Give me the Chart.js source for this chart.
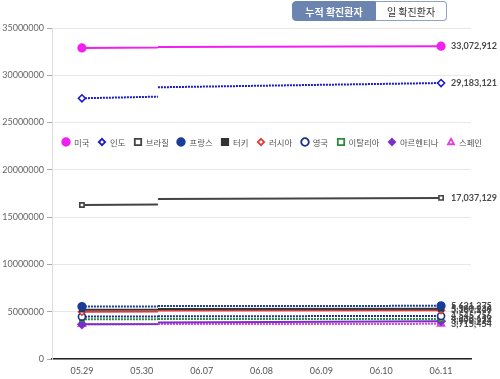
<!DOCTYPE html>
<html><head><meta charset="utf-8">
<script src="https://cdn.jsdelivr.net/npm/chart.js@4"></script>
<style>
html,body{margin:0;padding:0;background:#fff;}
#wrap{position:relative;width:500px;height:379px;overflow:hidden;}
#c{position:absolute;left:0;top:0;}
.btns{position:absolute;left:292px;top:1px;display:flex;font-family:'Noto Sans CJK KR',sans-serif;font-size:10px;z-index:2;}
.btns div{height:20px;line-height:20px;text-align:center;box-sizing:border-box;}
.b1{width:84px;background:#6c84b0;color:#fff;font-weight:bold;border:1px solid #6c84b0;border-radius:4px 0 0 4px;}
.b2{width:71px;background:#fff;color:#333;border:1px solid #8ea2c6;border-left:none;border-radius:0 4px 4px 0;}
#legend{position:absolute;left:61px;top:136px;display:flex;align-items:center;font-family:'Noto Sans CJK KR',sans-serif;font-size:8.4px;color:#555;z-index:2;white-space:nowrap;}
#legend .it{display:flex;align-items:center;margin-right:7.5px;}
#legend canvas{margin-right:3px;}
</style>
</head><body>
<div id="wrap">
<canvas id="c" width="500" height="379"></canvas>
<div class="btns"><div class="b1">누적 확진환자</div><div class="b2">일 확진환자</div></div>
<div id="legend"></div>
</div>
<script>
const labels = ['05.29','05.30','06.07','06.08','06.09','06.10','06.11'];
const countries = ['미국','인도','브라질','프랑스','터키','러시아','영국','이탈리아','아르헨티나','스페인'];
const startValues    = [32890000, 27570000, 16280000, 5550000, 5220000, 5000000, 4480000, 4210000, 3670000, 3670000];
const preBreakValues = [32930000, 27740000, 16340000, 5560000, 5230000, 5020000, 4490000, 4215000, 3700000, 3680000];
const postBreakValues= [33000000, 28730000, 16920000, 5600000, 5280000, 5130000, 4520000, 4230000, 3870000, 3700000];
const lastValues     = [33072912, 29183121, 17037129, 5621275, 5300236, 5167949, 4545756, 4238119, 3998924, 3715454];
const BREAK_AT = 1.27;

const colors   = ['#f020f0','#1a1acc','#444444','#1a3d99','#333333','#e03a3a','#1a2f8a','#2a8a3a','#7a30c8','#e040e0'];
const dotted   = [false,true,false,true,false,false,true,true,false,true];
const pStyles  = ['circle','rectRot','rect','circle','rect','rectRot','circle','rect','rectRot','triangle'];
const pFilled  = [true,false,false,true,true,false,false,false,true,false];
const pRadius  = [3.8,3.5,3,3.8,3,3.5,3.5,3,4,4];

const datasets = countries.map((name,i)=>({
  label:name,
  data:[{x:0,y:startValues[i]},{x:BREAK_AT,y:preBreakValues[i]},{x:BREAK_AT,y:null},{x:BREAK_AT,y:postBreakValues[i]},{x:labels.length-1,y:lastValues[i]}],
  borderColor:colors[i],
  borderWidth:2,
  borderDash:dotted[i]?[2,1]:[],
  pointStyle:pStyles[i],
  pointRadius:[pRadius[i],0,0,0,pRadius[i]],
  pointBackgroundColor:pFilled[i]?colors[i]:'#fff',
  pointBorderColor:colors[i],
  pointBorderWidth:1.6,
  fill:false,
  tension:0,
  spanGaps:false
}));

const endLabels = {
  id:'endLabels',
  afterDatasetsDraw(chart){
    const ctx = chart.ctx;
    ctx.save();
    ctx.font = "bold 9px Lato, 'Noto Sans CJK KR', sans-serif";
    ctx.fillStyle = '#4a4a4a';
    ctx.textBaseline = 'middle';
    chart.data.datasets.forEach((ds,i)=>{
      const meta = chart.getDatasetMeta(i);
      const pt = meta.data[meta.data.length-1];
      ctx.fillText(lastValues[i].toLocaleString('en-US'), pt.x+10, pt.y);
    });
    ctx.restore();
  }
};

Chart.defaults.font.family = "Lato, 'Noto Sans CJK KR', sans-serif";
new Chart(document.getElementById('c'),{
  type:'line',
  data:{datasets},
  options:{
    responsive:false, animation:false,
    layout:{padding:{top:28,right:29,left:0,bottom:0}},
    plugins:{legend:{display:false},tooltip:{enabled:false}},
    scales:{
      x:{type:'linear',min:-0.5,max:labels.length-0.5,
        afterBuildTicks:a=>{a.ticks = labels.map((_,i)=>({value:i}));},
        ticks:{callback:v=>labels[v],font:{size:9},color:'#555',padding:7,autoSkip:false,maxRotation:0},
        grid:{display:false,drawTicks:false},
        border:{display:true,color:'#222',width:1.5},
        afterFit:s=>{s.height=20;}
      },
      y:{min:0,max:35000000,
        ticks:{stepSize:5000000,callback:v=>String(v),font:{size:9},color:'#666',padding:3},
        grid:{color:'#e8e8e8',tickLength:5,tickColor:'#aaa'},
        border:{color:'#ddd'},
        afterFit:s=>{s.width=52;}
      }
    }
  },
  plugins:[endLabels]
});

function drawMarker(ctx,style,x,y,r,fill,stroke){
  ctx.fillStyle = fill; ctx.strokeStyle = stroke; ctx.lineWidth = 1.8;
  ctx.beginPath();
  if(style==='circle'){ctx.arc(x,y,r,0,Math.PI*2);}
  else if(style==='rect'){ctx.rect(x-r,y-r,2*r,2*r);}
  else if(style==='rectRot'){ctx.moveTo(x,y-r);ctx.lineTo(x+r,y);ctx.lineTo(x,y+r);ctx.lineTo(x-r,y);ctx.closePath();}
  else if(style==='triangle'){ctx.moveTo(x,y-r);ctx.lineTo(x+r*0.95,y+r*0.7);ctx.lineTo(x-r*0.95,y+r*0.7);ctx.closePath();}
  ctx.fill(); ctx.stroke();
}
const lg = document.getElementById('legend');
countries.forEach((name,i)=>{
  const it = document.createElement('div'); it.className='it';
  const cv = document.createElement('canvas'); cv.width=10; cv.height=10;
  drawMarker(cv.getContext('2d'),pStyles[i],5,5,pStyles[i]==='circle'?3.8:3.2,pFilled[i]?colors[i]:'#fff',colors[i]);
  const sp = document.createElement('span'); sp.textContent=name;
  it.appendChild(cv); it.appendChild(sp); lg.appendChild(it);
});
</script>
</body></html>
